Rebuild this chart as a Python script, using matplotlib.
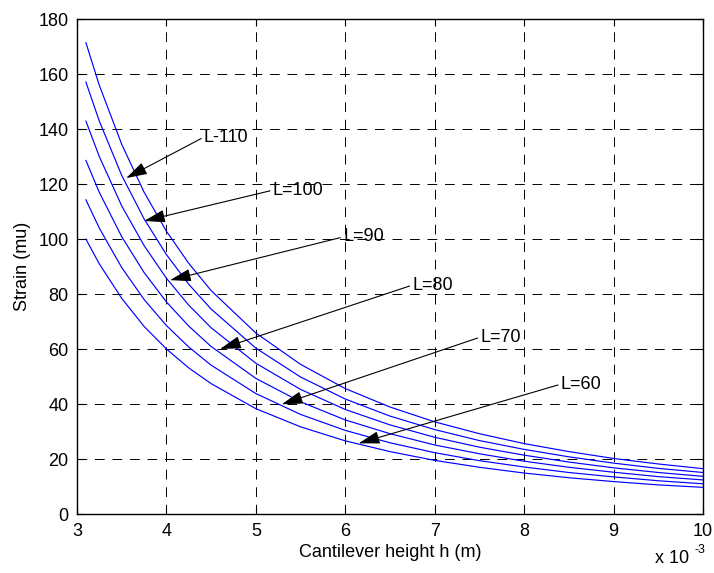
import matplotlib
matplotlib.use("Agg")
import matplotlib.pyplot as plt

plt.rcParams['font.family'] = ['Liberation Sans', 'DejaVu Sans']

# cantilever height (x 1e-3 m)
h = [3.1, 3.25, 3.5, 3.75, 4.0, 4.25, 4.5, 5.0, 5.5, 6.0, 6.5, 7.0, 7.5, 8.0, 8.5, 9.0, 9.5, 10.0]

strain_L60 = [100.0, 91.0, 78.5, 68.3, 60.1, 53.2, 47.5, 38.4, 31.8, 26.7, 22.8, 19.6, 17.1, 15.0, 13.3, 11.9, 10.7, 9.8]
strain_L70 = [114.3, 104.0, 89.7, 78.1, 68.6, 60.8, 54.2, 43.9, 36.3, 30.5, 26.0, 22.4, 19.5, 17.2, 15.2, 13.6, 12.2, 11.1]
strain_L80 = [128.6, 117.0, 100.9, 87.9, 77.2, 68.4, 61.0, 49.4, 40.9, 34.3, 29.3, 25.2, 22.0, 19.3, 17.1, 15.3, 13.7, 12.5]
strain_L90 = [142.9, 130.0, 112.1, 97.7, 85.8, 76.0, 67.8, 54.9, 45.4, 38.1, 32.5, 28.0, 24.4, 21.5, 19.0, 16.9, 15.2, 13.8]
strain_L100 = [157.1, 142.9, 123.2, 107.4, 94.4, 83.6, 74.6, 60.4, 49.9, 41.9, 35.7, 30.8, 26.8, 23.6, 20.9, 18.6, 16.7, 15.2]
strain_L110 = [171.4, 155.9, 134.5, 117.1, 102.9, 91.2, 81.3, 65.9, 54.5, 45.7, 39.0, 33.6, 29.3, 25.7, 22.8, 20.3, 18.3, 16.6]

series = [strain_L60, strain_L70, strain_L80, strain_L90, strain_L100, strain_L110]

labels = ["L=60", "L=70", "L=80", "L=90", "L=100", "L-110"]
label_xy = [(8.41, 47.3), (7.51, 64.4), (6.75, 83.3), (5.975, 100.8), (5.19, 117.8), (4.42, 137.1)]
arrow_xy = [(6.15, 25.8), (5.29, 40.0), (4.60, 60.1), (4.04, 85.1), (3.75, 106.6), (3.55, 122.2)]

x_ticks = [3, 4, 5, 6, 7, 8, 9, 10]
y_ticks = [0, 20, 40, 60, 80, 100, 120, 140, 160, 180]

fig = plt.figure(figsize=(7.14, 5.73), dpi=100)
ax = fig.add_axes([0.1078, 0.1024, 0.8768, 0.8644])

for s in series:
    ax.plot(h, s, color='#0000ff', lw=0.85)

for lab, txy, axy in zip(labels, label_xy, arrow_xy):
    ax.annotate(lab, xy=axy, xytext=txy, fontsize=13, ha='left', va='center',
                arrowprops=dict(arrowstyle='-|>,head_length=1.0,head_width=0.3',
                                color='k', lw=0.8, shrinkA=0, shrinkB=0,
                                relpos=(0, 0.5)))

ax.set_xlim(3, 10)
ax.set_ylim(0, 180)
ax.set_xticks(x_ticks)
ax.set_yticks(y_ticks)
ax.tick_params(direction='in', labelsize=13, length=5, top=True, right=True, pad=6)
ax.grid(True, color='k', linestyle=(0, (10, 8)), lw=0.7)
for sp in ax.spines.values():
    sp.set_linewidth(1.0)

ax.set_xlabel("Cantilever height h (m)", fontsize=13, labelpad=3)
ax.set_ylabel("Strain (mu)", fontsize=13, labelpad=5)

fig.text(0.917, 0.011, "x 10", fontsize=13, ha='left', va='bottom')
fig.text(0.972, 0.030, "-3", fontsize=9, ha='left', va='bottom')

fig.savefig("out.png", dpi=100)
